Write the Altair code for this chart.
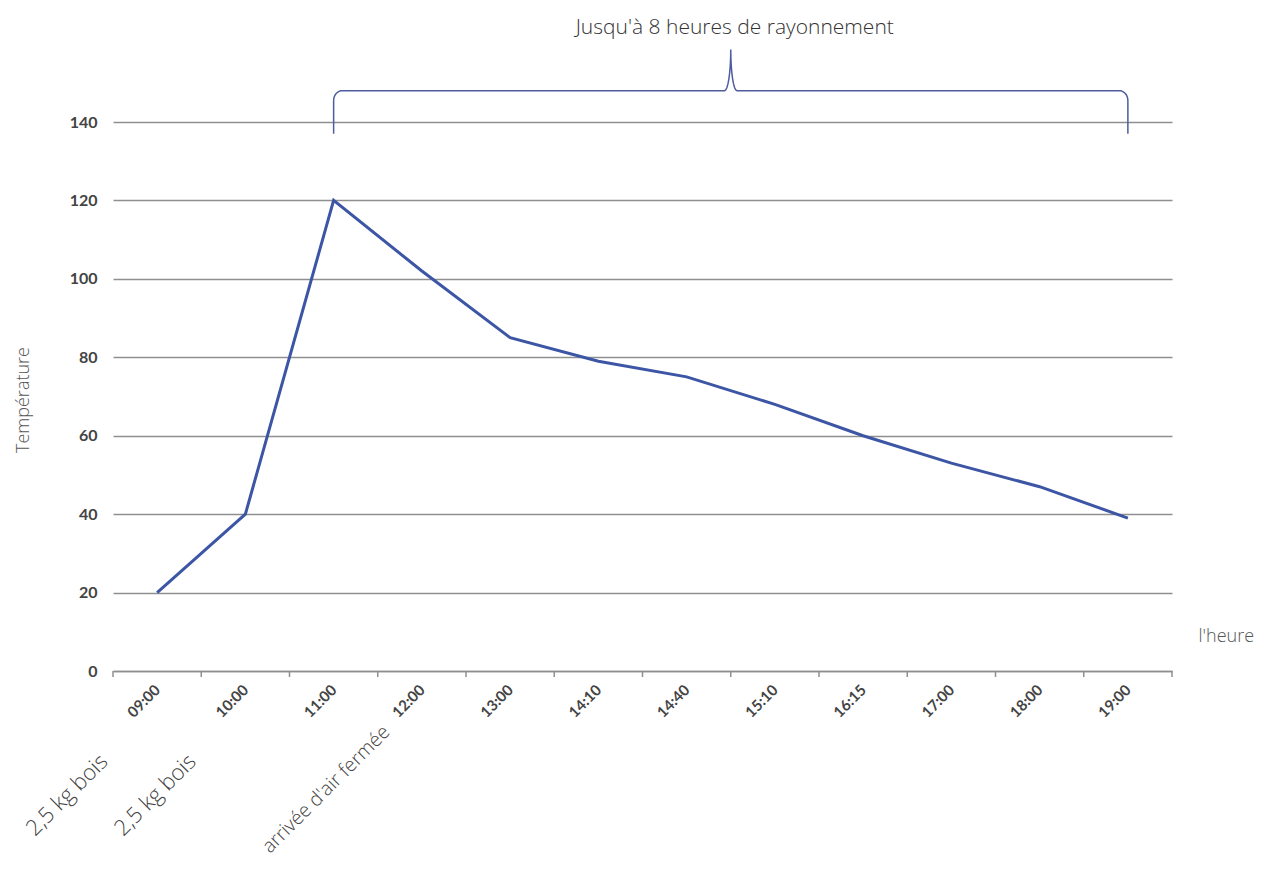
import json
import math
import altair as alt
import pandas as pd

# ---------------- data ----------------
times = ["09:00", "10:00", "11:00", "12:00", "13:00", "14:10", "14:40",
         "15:10", "16:15", "17:00", "18:00", "19:00"]
temps = [20, 40, 120, 102, 85, 79, 75, 68, 60, 53, 47, 39]
y_ticks = [0, 20, 40, 60, 80, 100, 120, 140]

wood_notes = ["2,5 kg bois", "2,5 kg bois"]
wood_note_times = ["09:00", "10:00"]
air_note = ["arrivée d'air fermée"]
air_note_time = ["11:00"]

brace_from = "11:00"
brace_to = "19:00"
brace_label = "Jusqu'à 8 heures de rayonnement"

x_title = "l'heure"
y_title = "Température"

# ---------------- styling ----------------
W, H = 1059, 549
GRID = "#8f8f8f"
LINE = "#3c55a5"
BRACE = "#4d5d9e"
TEXT = "#444444"
LIGHT = "#555555"

idx = {t: i for i, t in enumerate(times)}
df = pd.DataFrame({"i": list(range(len(times))), "t": times, "v": temps})

x_scale = alt.Scale(domain=[-0.5, len(times) - 0.5], nice=False, zero=False)
y_scale = alt.Scale(domain=[0, 140], nice=False)

label_expr = json.dumps(times) + "[datum.value]"

base_x = alt.X("i:Q", scale=x_scale,
               axis=alt.Axis(values=list(range(len(times))), labelExpr=label_expr,
                             grid=False, ticks=False, domain=True,
                             domainColor=GRID, domainWidth=1.5,
                             labelAngle=315, labelAlign="right", labelBaseline="middle",
                             labelPadding=16, labelFont="Lato", labelFontSize=15,
                             labelFontWeight="bold", labelColor=TEXT,
                             title=x_title, titleX=1085, titleY=-35, titleAngle=0,
                             titleAlign="left", titleBaseline="middle",
                             titleFont="Open Sans", titleFontSize=18,
                             titleFontWeight=300, titleColor=LIGHT))
base_y = alt.Y("v:Q", scale=y_scale,
               axis=alt.Axis(values=y_ticks, grid=True, gridColor=GRID, gridWidth=1.5,
                             domain=False, ticks=False, labelPadding=16,
                             labelFont="Lato", labelFontSize=16, labelFontWeight="bold",
                             labelColor=TEXT,
                             title=y_title, titleX=-90, titleY=H / 2 + 3, titleAngle=270,
                             titleAlign="center", titleBaseline="middle",
                             titleFont="Open Sans", titleFontSize=18,
                             titleFontWeight=300, titleColor=LIGHT))

line = alt.Chart(df).mark_line(color=LINE, strokeWidth=3).encode(x=base_x, y=base_y)

# tick marks at category boundaries
bounds = pd.DataFrame({"i": [i - 0.5 for i in range(len(times) + 1)]})
ticks = alt.Chart(bounds).mark_rule(color=GRID, strokeWidth=1.5).encode(
    x=alt.X("i:Q"), y=alt.value(H), y2=alt.value(H + 6))

# curly brace spanning brace_from .. brace_to (built from the span, in data units)
x0, x1 = idx[brace_from], idx[brace_to]
mid = (x0 + x1) / 2
level, foot, tip = 148, 137, 158.5
rx, ry = 0.1, 2.5
cx_tip = 0.07
pts = [(x0, foot)]
for k in range(0, 9):
    a = math.radians(180 - k * 90 / 8)
    pts.append((x0 + rx + rx * math.cos(a), level - ry + ry * math.sin(a)))
for k in range(0, 9):
    a = math.radians(-90 + k * 90 / 8)
    pts.append((mid - cx_tip + cx_tip * math.cos(a), tip + (tip - level) * math.sin(a)))
for k in range(0, 9):
    a = math.radians(180 + k * 90 / 8)
    pts.append((mid + cx_tip + cx_tip * math.cos(a), tip + (tip - level) * math.sin(a)))
for k in range(0, 9):
    a = math.radians(90 - k * 90 / 8)
    pts.append((x1 - rx + rx * math.cos(a), level - ry + ry * math.sin(a)))
pts.append((x1, foot))
brace_df = pd.DataFrame({"i": [p[0] for p in pts], "v": [p[1] for p in pts],
                         "seq": list(range(len(pts)))})
brace = alt.Chart(brace_df).mark_line(color=BRACE, strokeWidth=1.5, clip=False).encode(
    x=alt.X("i:Q"), y=alt.Y("v:Q"), order="seq:Q")

brace_txt = alt.Chart(pd.DataFrame({"i": [mid], "txt": [brace_label]})).mark_text(
    font="Open Sans", fontSize=21, fontWeight=300, color="#333333",
    align="center", baseline="middle", dx=4).encode(
    x=alt.X("i:Q"), y=alt.value(-94), text="txt:N")

# rotated notes under the axis (dx/dy act in the rotated frame)
wood_df = pd.DataFrame({"i": [idx[t] for t in wood_note_times], "txt": wood_notes})
wood = alt.Chart(wood_df).mark_text(
    font="Open Sans", fontSize=22, fontWeight=300, color=TEXT, angle=315,
    align="right", baseline="middle", dx=-37.5, dy=-37.5).encode(
    x=alt.X("i:Q"), y=alt.value(H + 87), text="txt:N")

air_df = pd.DataFrame({"i": [idx[t] for t in air_note_time], "txt": air_note})
air = alt.Chart(air_df).mark_text(
    font="Open Sans", fontSize=19.5, fontWeight=300, color=TEXT, angle=315,
    align="right", baseline="middle", dx=37.5, dy=37.5).encode(
    x=alt.X("i:Q"), y=alt.value(H + 58), text="txt:N")

chart = alt.layer(line, ticks, brace, brace_txt, wood, air).properties(
    width=W, height=H,
    autosize=alt.AutoSizeParams(type="none"),
    padding={"left": 105, "top": 114, "right": 86, "bottom": 198},
).configure(background="white").configure_view(strokeWidth=0)

chart.save("out.html", embed_options={"renderer": "svg", "actions": False})
